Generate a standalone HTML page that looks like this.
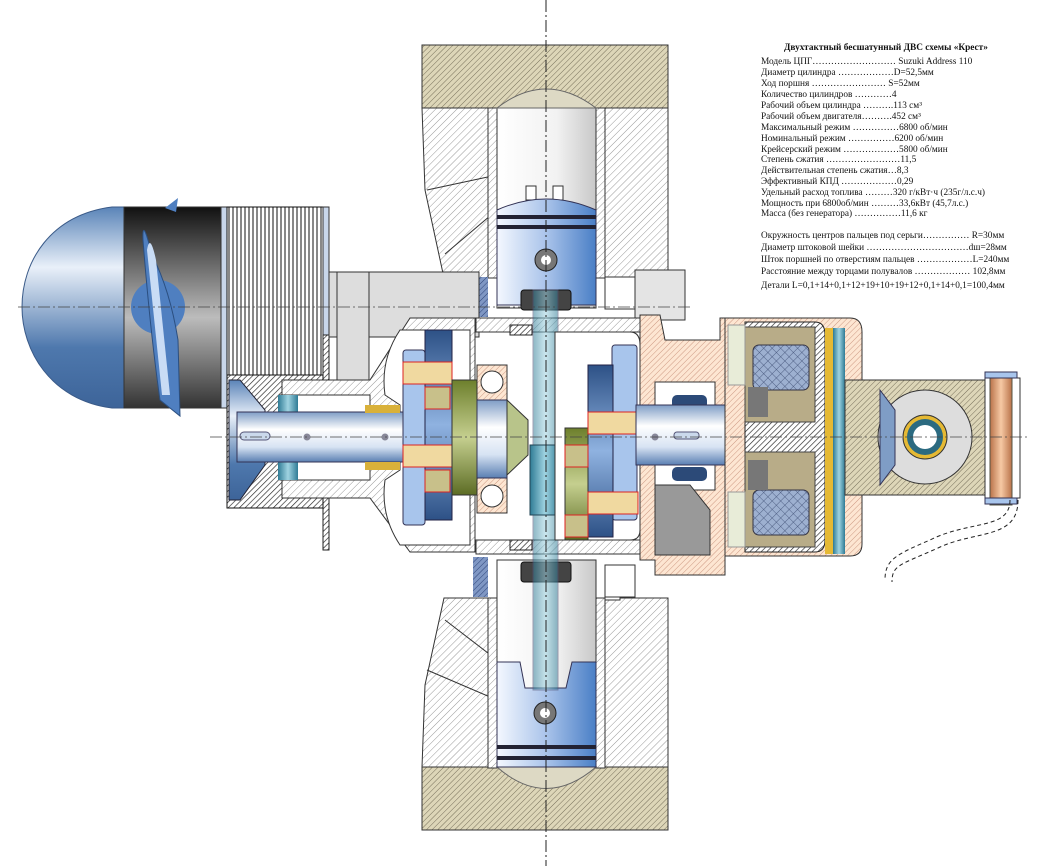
<!DOCTYPE html>
<html><head><meta charset="utf-8"><style>
html,body{margin:0;padding:0;background:#fff;width:1050px;height:866px;overflow:hidden}
svg{display:block}
.t{font-family:"Liberation Serif","Noto Serif CJK SC",serif;font-size:9.3px;fill:#111}
</style></head><body>
<svg width="1050" height="866" viewBox="0 0 1050 866" xmlns="http://www.w3.org/2000/svg">
<defs>
<pattern id="h" width="5" height="5" patternUnits="userSpaceOnUse" patternTransform="rotate(45)"><rect width="5" height="5" fill="#fff"/><line x1="0" y1="0" x2="0" y2="5" stroke="#999" stroke-width="1"/></pattern>
<pattern id="ht" width="4" height="4" patternUnits="userSpaceOnUse" patternTransform="rotate(45)"><rect width="4" height="4" fill="#ddd6b8"/><line x1="0" y1="0" x2="0" y2="4" stroke="#6b6450" stroke-width="0.9"/></pattern>
<pattern id="hp" width="4" height="4" patternUnits="userSpaceOnUse" patternTransform="rotate(45)"><rect width="4" height="4" fill="#fde6d2"/><line x1="0" y1="0" x2="0" y2="4" stroke="#c8907a" stroke-width="0.9"/></pattern>
<pattern id="hb" width="4" height="4" patternUnits="userSpaceOnUse" patternTransform="rotate(45)"><rect width="4" height="4" fill="#fff"/><line x1="0" y1="0" x2="0" y2="4" stroke="#222" stroke-width="1.3"/></pattern>
<pattern id="hbl" width="4" height="4" patternUnits="userSpaceOnUse" patternTransform="rotate(45)"><rect width="4" height="4" fill="#7f97c4"/><line x1="0" y1="0" x2="0" y2="4" stroke="#2d4478" stroke-width="1"/></pattern>
<pattern id="x" width="6" height="6" patternUnits="userSpaceOnUse" patternTransform="rotate(45)"><rect width="6" height="6" fill="#9db0d0"/><path d="M0 0V6M0 0H6" stroke="#3a4a70" stroke-width="0.8"/></pattern>
<pattern id="fin" width="4" height="10" patternUnits="userSpaceOnUse"><rect width="4" height="10" fill="#fff"/><line x1="1" y1="0" x2="1" y2="10" stroke="#111" stroke-width="1"/></pattern>
<linearGradient id="pst" x1="0" x2="1"><stop offset="0" stop-color="#f4f8ff"/><stop offset=".5" stop-color="#a9c3ea"/><stop offset="1" stop-color="#4a7fc6"/></linearGradient>
<linearGradient id="bore" x1="0" x2="1"><stop offset="0" stop-color="#fff"/><stop offset=".6" stop-color="#f2f2f2"/><stop offset="1" stop-color="#c8c8c8"/></linearGradient>
<linearGradient id="shaft" x1="0" y1="0" x2="0" y2="1"><stop offset="0" stop-color="#7f9dc6"/><stop offset=".35" stop-color="#fff"/><stop offset=".7" stop-color="#d7e3f3"/><stop offset="1" stop-color="#5a7fb2"/></linearGradient>
<linearGradient id="dome" x1="0" y1="0" x2="0" y2="1"><stop offset="0" stop-color="#5a84b8"/><stop offset=".3" stop-color="#e9f0f9"/><stop offset=".7" stop-color="#4e78ad"/><stop offset="1" stop-color="#3d6499"/></linearGradient>
<linearGradient id="band" x1="0" y1="0" x2="0" y2="1"><stop offset="0" stop-color="#111"/><stop offset=".55" stop-color="#bcbcbc"/><stop offset="1" stop-color="#333"/></linearGradient>
<linearGradient id="bl" x1="0" y1="0" x2="0" y2="1"><stop offset="0" stop-color="#2d5186"/><stop offset=".5" stop-color="#8fb2e0"/><stop offset="1" stop-color="#2d5186"/></linearGradient>
<linearGradient id="grn" x1="0" y1="0" x2="0" y2="1"><stop offset="0" stop-color="#6d7f2c"/><stop offset=".5" stop-color="#c5cf8f"/><stop offset="1" stop-color="#5c6c24"/></linearGradient>
<linearGradient id="teal" x1="0" x2="1"><stop offset="0" stop-color="#2f7b95"/><stop offset=".5" stop-color="#9fd3e1"/><stop offset="1" stop-color="#2f7b95"/></linearGradient>
<linearGradient id="cu" x1="0" x2="1"><stop offset="0" stop-color="#b9724a"/><stop offset=".5" stop-color="#f6c9a4"/><stop offset="1" stop-color="#b9724a"/></linearGradient>
</defs>

<!-- TOP CYLINDER -->
<path d="M422 45 H668 V108 H422Z" fill="url(#ht)" stroke="#333"/>
<path d="M422 108 H668 V278 H620 V277 H597 V108 H497 V278 H444 L425 190 Z" fill="url(#h)" stroke="#333"/>
<path d="M427 190 L497 175 V210 L445 254" fill="none" stroke="#333"/>
<rect x="488" y="108" width="9" height="170" fill="url(#h)" stroke="#333"/>
<rect x="596" y="108" width="9" height="170" fill="url(#h)" stroke="#333"/>
<rect x="497" y="108" width="99" height="200" fill="url(#bore)" stroke="#333"/>
<path d="M497 108 Q546 70 596 108Z" fill="#ddd9c4" stroke="#666"/>
<rect x="526" y="186" width="10" height="14" fill="#fff" stroke="#333"/>
<rect x="553" y="186" width="10" height="14" fill="#fff" stroke="#333"/>
<path d="M497 210 Q546 188 596 210 V305 H497Z" fill="url(#pst)" stroke="#335"/>
<rect x="497" y="215" width="99" height="4" fill="#223"/><rect x="497" y="225" width="99" height="4" fill="#223"/>
<circle cx="546" cy="260" r="11" fill="#777" stroke="#222"/><circle cx="546" cy="260" r="5" fill="#fff"/>
<rect x="521" y="290" width="50" height="20" fill="#444" stroke="#111" rx="3"/>
<rect x="473" y="277" width="15" height="40" fill="url(#hbl)"/>
<rect x="605" y="277" width="30" height="32" fill="#fff" stroke="#333"/>
<rect x="635" y="270" width="50" height="50" fill="#e4e4e4" stroke="#333"/>

<!-- BOTTOM CYLINDER -->
<path d="M422 767 H668 V830 H422Z" fill="url(#ht)" stroke="#333"/>
<path d="M422 767 H668 V598 H620 V600 H597 V767 H497 V598 H444 L425 685 Z" fill="url(#h)" stroke="#333"/>
<path d="M427 670 L497 700 V660 L445 620" fill="none" stroke="#333"/>
<rect x="488" y="598" width="9" height="170" fill="url(#h)" stroke="#333"/>
<rect x="596" y="598" width="9" height="170" fill="url(#h)" stroke="#333"/>
<rect x="497" y="560" width="99" height="207" fill="url(#bore)" stroke="#333"/>
<path d="M497 767 Q546 810 596 767Z" fill="#ddd9c4" stroke="#666"/>
<path d="M497 662 H520 L525 688 H566 L572 662 H596 V767 H497Z" fill="url(#pst)" stroke="#335"/>
<rect x="497" y="745" width="99" height="4" fill="#223"/><rect x="497" y="756" width="99" height="4" fill="#223"/>
<circle cx="545" cy="713" r="11" fill="#777" stroke="#222"/><circle cx="545" cy="713" r="5" fill="#fff"/>
<rect x="521" y="562" width="50" height="20" fill="#444" stroke="#111" rx="3"/>
<rect x="473" y="557" width="15" height="40" fill="url(#hbl)"/>
<rect x="605" y="565" width="30" height="32" fill="#fff" stroke="#333"/>

<!-- LEFT PROPELLER UNIT -->
<path d="M125 207 V408 H112 C50 400 22 350 22 307 C22 262 50 215 112 207Z" fill="url(#dome)" stroke="#3a5a88"/>
<rect x="124" y="207" width="97" height="201" fill="url(#band)" stroke="#333"/>
<circle cx="158" cy="307" r="27" fill="#4f7fc0"/>
<path d="M165 208 L178 198 L176 212Z" fill="#4f7fc0"/>
<path d="M143 240 Q142 215 152 255 Q170 290 178 340 L180 416 L160 400 Q150 330 143 240Z" fill="#4f7fc0" stroke="#2b4f80"/>
<path d="M147 250 Q150 232 156 260 L170 395 L162 395 Z" fill="#c9dcf5"/>
<rect x="221" y="207" width="6" height="201" fill="#c8d6ea" stroke="#333"/>
<rect x="227" y="207" width="96" height="168" fill="url(#fin)" stroke="#111"/>
<rect x="323" y="207" width="6" height="128" fill="#c8d6ea" stroke="#333"/>
<rect x="323" y="335" width="6" height="215" fill="url(#hb)" stroke="#222"/>
<rect x="227" y="375" width="96" height="133" fill="url(#hb)" stroke="#111"/>
<path d="M229 380 H240 L265 410 V465 L240 500 H229Z" fill="url(#dome)" stroke="#223"/>
<rect x="329" y="272" width="150" height="65" fill="#ddd" stroke="#333"/>
<rect x="337" y="272" width="32" height="108" fill="#ddd" stroke="#333"/>
<!-- left housing -->
<path d="M370 380 L410 318 H475 V552 H410 L370 498 H282 V380Z" fill="url(#h)" stroke="#333"/>
<path d="M400 330 Q380 360 385 395 L400 405 V470 L385 480 Q380 515 400 545 H470 V330Z" fill="#fff" stroke="#333"/>
<path d="M280 395 H370 V480 H280Z" fill="#fff" stroke="#333"/>
<rect x="278" y="395" width="20" height="85" fill="url(#teal)"/>
<!-- left shaft -->
<rect x="237" y="412" width="170" height="50" fill="url(#shaft)" stroke="#335"/>
<rect x="240" y="432" width="30" height="8" rx="4" fill="#cbd9ec" stroke="#557"/>
<circle cx="307" cy="437" r="3.5" fill="#889"/><circle cx="385" cy="437" r="3.5" fill="#889"/>
<rect x="365" y="405" width="35" height="8" fill="#d9b13a"/><rect x="365" y="462" width="35" height="8" fill="#d9b13a"/>
<!-- gears left -->
<rect x="403" y="350" width="22" height="175" rx="3" fill="#a8c5ec" stroke="#335"/>
<rect x="425" y="330" width="27" height="190" fill="url(#bl)" stroke="#224"/>
<rect x="403" y="362" width="49" height="22" fill="#f0d9a0" stroke="#d22"/>
<rect x="403" y="445" width="49" height="22" fill="#f0d9a0" stroke="#d22"/>
<rect x="425" y="387" width="25" height="22" fill="#c8c08a" stroke="#d22"/>
<rect x="425" y="470" width="25" height="22" fill="#c8c08a" stroke="#d22"/>
<rect x="452" y="380" width="25" height="115" fill="url(#grn)" stroke="#333"/>
<rect x="477" y="365" width="30" height="35" fill="url(#hp)" stroke="#333"/>
<rect x="477" y="478" width="30" height="35" fill="url(#hp)" stroke="#333"/>
<circle cx="492" cy="382" r="11" fill="#fff" stroke="#333"/><circle cx="492" cy="496" r="11" fill="#fff" stroke="#333"/>
<rect x="477" y="400" width="30" height="78" fill="url(#shaft)" stroke="#335"/>
<path d="M507 400 L528 420 V455 L507 475Z" fill="#b8c48a" stroke="#333"/>
<!-- center rod & case -->
<rect x="476" y="318" width="170" height="14" fill="url(#h)" stroke="#333"/>
<rect x="476" y="540" width="170" height="14" fill="url(#h)" stroke="#333"/>
<rect x="510" y="325" width="22" height="10" fill="url(#hb)" stroke="#222"/>
<rect x="510" y="540" width="22" height="10" fill="url(#hb)" stroke="#222"/>
<rect x="533" y="290" width="25" height="400" fill="url(#teal)" opacity=".55" stroke="#557"/>
<rect x="530" y="445" width="30" height="70" fill="url(#teal)" stroke="#245"/>
<!-- right crank part -->
<path d="M555 332 H630 Q640 332 640 345 V530 Q640 540 630 540 H555Z" fill="#fff" stroke="#333"/>
<rect x="612" y="345" width="25" height="175" rx="3" fill="#a8c5ec" stroke="#335"/>
<rect x="588" y="365" width="25" height="172" fill="url(#bl)" stroke="#224"/>
<rect x="565" y="428" width="23" height="112" fill="url(#grn)" stroke="#333"/>
<rect x="588" y="412" width="50" height="22" fill="#f0d9a0" stroke="#d22"/>
<rect x="588" y="492" width="50" height="22" fill="#f0d9a0" stroke="#d22"/>
<rect x="565" y="445" width="23" height="22" fill="#c8c08a" stroke="#d22"/>
<rect x="565" y="515" width="23" height="22" fill="#c8c08a" stroke="#d22"/>
<!-- right housing -->
<path d="M640 315 H660 L665 340 H720 V318 H725 V575 H655 V560 H640Z" fill="url(#hp)" stroke="#333"/>
<path d="M655 382 H715 V490 H655Z" fill="#fff" stroke="#333"/>
<path d="M655 485 H690 L710 510 V555 H655Z" fill="#999" stroke="#333"/>
<rect x="672" y="395" width="35" height="14" rx="5" fill="#2c4a78"/>
<rect x="672" y="467" width="35" height="14" rx="5" fill="#2c4a78"/>
<!-- right shaft -->
<rect x="636" y="405" width="135" height="60" fill="url(#shaft)" stroke="#335"/>
<path d="M760 410 Q790 437 760 462 H800 Q820 437 800 410Z" fill="url(#shaft)" stroke="#335"/>
<rect x="800" y="420" width="90" height="34" fill="url(#shaft)" stroke="#335"/>
<circle cx="655" cy="437" r="3.5" fill="#889"/><circle cx="732" cy="437" r="3.5" fill="#889"/>
<rect x="674" y="432" width="25" height="7" rx="3" fill="#cbd9ec" stroke="#557"/>
<!-- generator -->
<path d="M725 318 H850 Q862 318 862 332 V544 Q862 556 850 556 H725Z" fill="url(#hp)" stroke="#333"/>
<path d="M745 322 H815 Q825 322 825 335 V540 Q825 552 815 552 H745Z" fill="url(#hb)" stroke="#222"/>
<rect x="745" y="327" width="70" height="95" fill="#b8ac88" stroke="#444"/>
<rect x="745" y="452" width="70" height="95" fill="#b8ac88" stroke="#444"/>
<rect x="753" y="345" width="56" height="45" rx="6" fill="url(#x)" stroke="#334"/>
<rect x="753" y="490" width="56" height="45" rx="6" fill="url(#x)" stroke="#334"/>
<rect x="748" y="387" width="20" height="30" fill="#777"/><rect x="748" y="460" width="20" height="30" fill="#777"/>
<rect x="728" y="325" width="17" height="60" fill="#e8ecd8" stroke="#999"/>
<rect x="728" y="492" width="17" height="55" fill="#e8ecd8" stroke="#999"/>
<rect x="825" y="328" width="8" height="226" fill="#e5b934"/>
<rect x="833" y="328" width="12" height="226" fill="url(#teal)"/>
<!-- right arm -->
<rect x="845" y="380" width="140" height="115" fill="url(#ht)" stroke="#333"/>
<circle cx="925" cy="437" r="47" fill="#ddd" stroke="#333"/>
<circle cx="925" cy="437" r="22" fill="#e5b934" stroke="#333"/>
<circle cx="925" cy="437" r="18" fill="#2b6a80"/>
<circle cx="925" cy="437" r="12" fill="#fff"/>
<path d="M880 390 L895 410 V465 L880 485Z" fill="#7f9dc6" stroke="#335"/>
<rect x="985" y="378" width="35" height="120" fill="#fff" stroke="#333"/>
<rect x="990" y="375" width="22" height="130" fill="url(#cu)" stroke="#554"/>
<rect x="985" y="372" width="32" height="6" fill="#a8c5ec" stroke="#335"/>
<rect x="985" y="498" width="32" height="6" fill="#a8c5ec" stroke="#335"/>
<path d="M1010 500 C1010 530 970 520 930 540 C895 555 885 560 885 580" fill="none" stroke="#222" stroke-dasharray="4 3"/>
<path d="M1018 500 C1018 540 975 530 938 548 C900 565 892 565 892 582" fill="none" stroke="#222" stroke-dasharray="4 3"/>

<!-- axes -->
<line x1="210" y1="437" x2="1030" y2="437" stroke="#444" stroke-width=".8" stroke-dasharray="12 3 2 3"/>
<line x1="18" y1="307" x2="690" y2="307" stroke="#444" stroke-width=".8" stroke-dasharray="12 3 2 3"/>
<line x1="546" y1="0" x2="546" y2="866" stroke="#222" stroke-width="1" stroke-dasharray="12 3 2 3"/>

<!-- TEXT -->
<text class="t" x="784" y="50" font-weight="bold">Двухтактный бесшатунный ДВС схемы «Крест»</text>
<g class="t">
<text x="761" y="64">Модель ЦПГ………………………  Suzuki Address 110</text>
<text x="761" y="75">Диаметр цилиндра ………………D=52,5мм</text>
<text x="761" y="86">Ход поршня ……………………  S=52мм</text>
<text x="761" y="97">Количество цилиндров …………4</text>
<text x="761" y="108">Рабочий объем цилиндра ……….113 см³</text>
<text x="761" y="119">Рабочий объем двигателя……….452 см³</text>
<text x="761" y="130">Максимальный режим ……………6800 об/мин</text>
<text x="761" y="141">Номинальный режим ……………6200 об/мин</text>
<text x="761" y="152">Крейсерский режим ………………5800 об/мин</text>
<text x="761" y="162">Степень сжатия ……………………11,5</text>
<text x="761" y="173">Действительная степень сжатия…8,3</text>
<text x="761" y="184">Эффективный КПД ………………0,29</text>
<text x="761" y="195">Удельный расход топлива ………320 г/кВт·ч (235г/л.с.ч)</text>
<text x="761" y="206">Мощность при 6800об/мин ………33,6кВт (45,7л.с.)</text>
<text x="761" y="216">Масса (без генератора) ……………11,6 кг</text>
<text x="761" y="238">Окружность центров пальцев под серьги…………… R=30мм</text>
<text x="761" y="250">Диаметр штоковой шейки ……………………………dш=28мм</text>
<text x="761" y="262">Шток поршней по отверстиям пальцев ………………L=240мм</text>
<text x="761" y="274">Расстояние между торцами полувалов ……………… 102,8мм</text>
<text x="761" y="288">Детали L=0,1+14+0,1+12+19+10+19+12+0,1+14+0,1=100,4мм</text>
</g>
</svg>
</body></html>
